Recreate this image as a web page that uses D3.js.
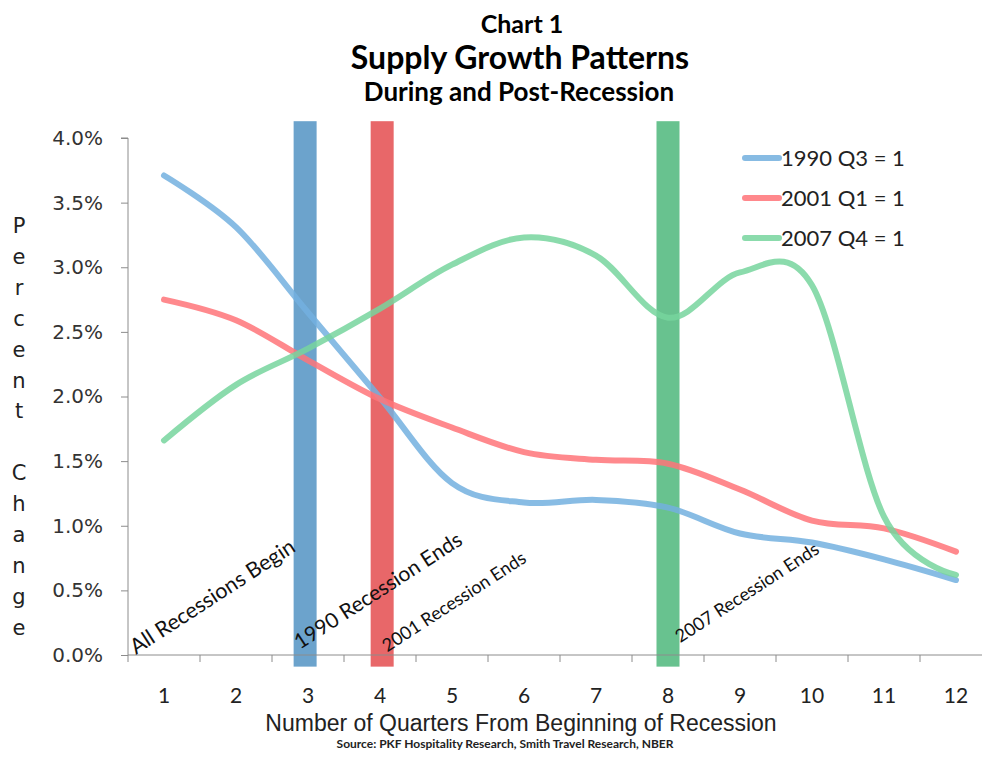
<!DOCTYPE html>
<html>
<head>
<meta charset="utf-8">
<script src="https://cdn.jsdelivr.net/npm/d3@7"></script>
<style>
  body { margin: 0; background: #fff; }
  svg { display: block; }
  .axis path, .axis line { stroke: #8c8c8c; }
</style>
</head>
<body>
<div id="chart"></div>
<script>
// values (percent change)
const quarters = [1, 2, 3, 4, 5, 6, 7, 8, 9, 10, 11, 12];
const s1990 = [3.71, 3.31, 2.65, 1.99, 1.33, 1.18, 1.20, 1.14, 0.94, 0.87, 0.74, 0.58];
const s2001 = [2.75, 2.59, 2.28, 1.98, 1.76, 1.57, 1.51, 1.48, 1.28, 1.04, 0.98, 0.80];
const s2007 = [1.66, 2.09, 2.37, 2.68, 3.02, 3.23, 3.09, 2.61, 2.96, 2.86, 1.07, 0.62];
const seriesNames = ["1990 Q3 = 1", "2001 Q1 = 1", "2007 Q4 = 1"];
const yTicks = [0, 0.5, 1.0, 1.5, 2.0, 2.5, 3.0, 3.5, 4.0];

// recession markers (position in quarters, as placed on the chart)
const markQuarters = [2.96, 4.03, 8.0];
const annotations = [
    { q: 0.61, v: 0, text: "All Recessions Begin", size: 21.5 },
    { q: 2.89, v: 0.04, text: "1990 Recession Ends", size: 21 },
    { q: 4.1, v: 0.02, text: "2001 Recession Ends", size: 18 },
    { q: 8.17, v: 0.09, text: "2007 Recession Ends", size: 18 }
];

const W = 982, H = 758;
const margin = {top: 138, left: 128, bottom: 103};
const plotW = 864, plotH = H - margin.top - margin.bottom;

const lineColors = ["#73b0df", "#ff7479", "#77d59e"];
const barColors = ["#5f9bc8", "#e65a5c", "#5bbd85"];

const svg = d3.select("#chart").append("svg")
    .attr("width", W)
    .attr("height", H);

const x = d3.scaleBand()
    .domain(quarters)
    .range([margin.left, margin.left + plotW]);
const xc = d => x(d) + x.bandwidth() / 2;
// continuous position along the quarter axis for free-placed marks
const xq = d3.scaleLinear().domain([1, 12]).range([xc(1), xc(12)]);

const y = d3.scaleLinear()
    .domain([0, 4])
    .range([margin.top + plotH, margin.top]);

// titles
const titleFont = "Lato, 'Open Sans', sans-serif";
svg.append("text").attr("x", 522).attr("y", 33).attr("text-anchor", "middle")
    .style("font", `bold 25px ${titleFont}`).text("Chart 1");
svg.append("text").attr("x", 520).attr("y", 69).attr("text-anchor", "middle")
    .style("font", `bold 32px ${titleFont}`).text("Supply Growth Patterns");
svg.append("text").attr("x", 519).attr("y", 101).attr("text-anchor", "middle")
    .style("font", `bold 26px ${titleFont}`).text("During and Post-Recession");

// recession bars
svg.selectAll("rect.mark").data(markQuarters).enter().append("rect")
    .attr("class", "mark")
    .attr("x", d => xq(d) - 11.5)
    .attr("width", 23)
    .attr("y", y(4.13))
    .attr("height", y(-0.09) - y(4.13))
    .attr("fill", (d, i) => barColors[i])
    .attr("opacity", 0.92);

// axes
const yAxis = d3.axisLeft(y).tickValues(yTicks).tickSize(7)
    .tickFormat(d => d.toFixed(1) + "%");
const gy = svg.append("g").attr("class", "axis")
    .attr("transform", `translate(${margin.left},0)`)
    .call(yAxis);
gy.select(".domain").attr("d", `M-7,${y(4)}H0V${y(0)}`);
gy.selectAll("text").attr("x", -25).attr("fill", "#333")
    .style("font", "20px 'DejaVu Sans', sans-serif");

const gx = svg.append("g").attr("class", "axis")
    .attr("transform", `translate(0,${y(0)})`);
gx.append("path").attr("d", `M${margin.left},0H${margin.left + plotW}`);
gx.selectAll("line.tk").data(d3.range(quarters.length + 1)).enter().append("line")
    .attr("class", "tk")
    .attr("x1", i => margin.left + i * x.bandwidth())
    .attr("x2", i => margin.left + i * x.bandwidth())
    .attr("y1", 0).attr("y2", 7);
gx.selectAll("text").data(quarters).enter().append("text")
    .attr("x", d => xc(d)).attr("y", 48)
    .attr("text-anchor", "middle").attr("fill", "#222")
    .style("font", `21px ${titleFont}`)
    .text(d => d);

// axis titles
svg.append("text").attr("x", 521).attr("y", 731).attr("text-anchor", "middle")
    .attr("fill", "#222")
    .style("font", "23px 'Liberation Sans', Arial, sans-serif")
    .text("Number of Quarters From Beginning of Recession");
svg.append("text").attr("x", 505).attr("y", 748).attr("text-anchor", "middle")
    .attr("fill", "#222")
    .style("font", `bold 12px ${titleFont}`)
    .text("Source: PKF Hospitality Research, Smith Travel Research, NBER");

const yTitle = "Percent Change".split("");
svg.selectAll("text.ytl").data(yTitle).enter().append("text")
    .attr("class", "ytl")
    .attr("x", 19)
    .attr("y", (d, i) => 233 + i * 30.9)
    .attr("text-anchor", "middle").attr("fill", "#222")
    .style("font", "21px 'DejaVu Sans', sans-serif")
    .text(d => d);

// annotations
svg.selectAll("text.ann").data(annotations).enter().append("text")
    .attr("class", "ann")
    .attr("transform", d => `translate(${xq(d.q)},${y(d.v)}) rotate(-33)`)
    .attr("fill", "#111")
    .style("font", d => `${d.size}px ${titleFont}`)
    .text(d => d.text);

// lines
const line = d3.line()
    .x((d, i) => xc(quarters[i]))
    .y(d => y(d))
    .curve(d3.curveCardinal.tension(0));

[s1990, s2001, s2007].forEach((s, i) => {
    svg.append("path")
        .datum(s)
        .attr("d", line)
        .attr("fill", "none")
        .attr("stroke", lineColors[i])
        .attr("stroke-width", 6)
        .attr("stroke-linecap", "round")
        .attr("opacity", 0.85);
});

// legend
const lg = svg.append("g").attr("transform", "translate(745,158)");
seriesNames.forEach((n, i) => {
    lg.append("line")
        .attr("x1", 0).attr("x2", 34)
        .attr("y1", i * 40).attr("y2", i * 40)
        .attr("stroke", lineColors[i]).attr("stroke-width", 6)
        .attr("stroke-linecap", "round").attr("opacity", 0.85);
    lg.append("text")
        .attr("x", 36).attr("y", i * 40 + 8)
        .attr("fill", "#222")
        .style("font", `22px ${titleFont}`)
        .text(n);
});
</script>
</body>
</html>
